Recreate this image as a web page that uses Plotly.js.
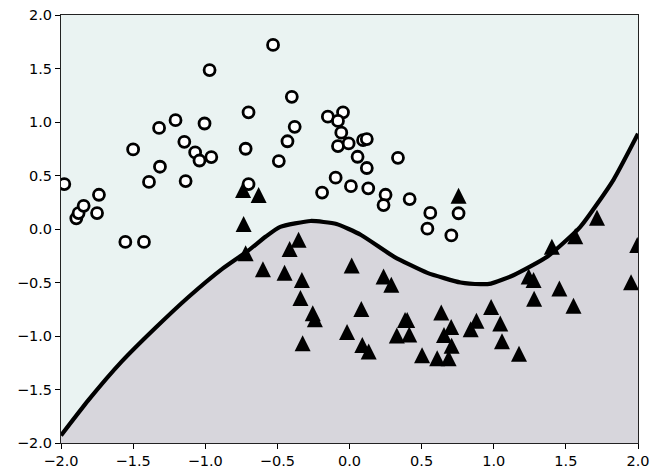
<!DOCTYPE html>
<html>
<head>
<meta charset="utf-8">
<script src="https://cdn.plot.ly/plotly-3.0.1.min.js"></script>
<style>html,body{margin:0;padding:0;background:#fff;}#chart{width:650px;height:471px;}</style>
</head>
<body>
<div id="chart"></div>
<script>
// Class 0 (open circles)
const circleX = [-1.977, -1.894, -1.878, -1.843, -1.737, -1.75, -1.554, -1.425, -1.50, -1.39,
  -1.314, -1.32, -1.206, -1.145, -1.136, -1.07, -1.04, -1.005, -0.958, -0.97,
  -0.72, -0.70, -0.70, -0.53, -0.49, -0.43, -0.40, -0.38, -0.19, -0.15,
  -0.045, -0.08, -0.057, -0.08, -0.006, 0.094, 0.12, 0.056, 0.12, 0.336,
  -0.096, 0.01, 0.13, 0.25, 0.236, 0.417, 0.56, 0.54, 0.756, 0.706];
const circleY = [0.42, 0.10, 0.149, 0.217, 0.32, 0.149, -0.121, -0.121, 0.744, 0.44,
  0.582, 0.945, 1.017, 0.815, 0.448, 0.716, 0.64, 0.986, 0.672, 1.485,
  0.75, 1.09, 0.42, 1.72, 0.635, 0.82, 1.235, 0.955, 0.34, 1.05,
  1.09, 1.01, 0.90, 0.775, 0.80, 0.83, 0.84, 0.675, 0.57, 0.665,
  0.48, 0.40, 0.38, 0.32, 0.224, 0.28, 0.15, 0.003, 0.147, -0.06];

// Class 1 (filled triangles)
const triangleX = [-0.738, -0.63, -0.734, -0.72, -0.60, -0.45, -0.415, -0.353, -0.33, -0.34,
  -0.255, -0.24, -0.325, 0.015, 0.236, 0.29, 0.082, -0.017, 0.089, 0.133,
  0.385, 0.40, 0.328, 0.414, 0.503, 0.608, 0.687, 0.636, 0.705, 0.655,
  0.708, 0.84, 0.88, 0.982, 1.045, 1.057, 1.175, 1.242, 1.276, 1.28,
  1.455, 1.553, 1.403, 1.565, 1.716, 1.952, 1.995, 0.756];
const triangleY = [0.364, 0.317, 0.047, -0.227, -0.376, -0.41, -0.187, -0.10, -0.476, -0.645,
  -0.787, -0.843, -1.067, -0.34, -0.445, -0.522, -0.747, -0.962, -1.083, -1.145,
  -0.85, -0.85, -0.995, -0.987, -1.18, -1.207, -1.207, -0.78, -0.915, -0.99,
  -1.09, -0.936, -0.858, -0.728, -0.884, -1.05, -1.165, -0.445, -0.476, -0.653,
  -0.556, -0.717, -0.165, -0.068, 0.105, -0.497, -0.149, 0.31];

// Decision boundary
const boundaryX = [-2.0, -1.81, -1.58, -1.35, -1.12, -0.88, -0.70, -0.58, -0.48, -0.27,
  -0.09, 0.08, 0.31, 0.54, 0.77, 0.91, 0.98, 1.14, 1.37, 1.60, 1.83, 2.0];
const boundaryY = [-1.93, -1.60, -1.24, -0.93, -0.64, -0.37, -0.20, -0.07, 0.02, 0.075,
  0.047, -0.056, -0.26, -0.41, -0.50, -0.515, -0.51, -0.43, -0.26, 0.02, 0.46, 0.89];

// Axis extent and ticks
const axisRange = [-2, 2];
const tickValues = [-2, -1.5, -1, -0.5, 0, 0.5, 1, 1.5, 2];
const tickLabels = ['\u22122.0', '\u22121.5', '\u22121.0', '\u22120.5', '0.0', '0.5', '1.0', '1.5', '2.0'];
const baselineX = [-2, 2];
const baselineY = [-2, -2];

const upperColor = '#eaf3f2';
const lowerColor = '#d7d6dc';

const triSize = 16;

const traces = [
  {x: baselineX, y: baselineY, mode: 'lines', line: {width: 0, color: 'rgba(0,0,0,0)'},
   hoverinfo: 'skip', showlegend: false},
  {x: boundaryX, y: boundaryY, mode: 'lines', fill: 'tonexty', fillcolor: lowerColor,
   line: {color: '#000', width: 4.2, shape: 'spline', smoothing: 0.5},
   hoverinfo: 'skip', showlegend: false},
  {x: circleX, y: circleY, mode: 'markers', showlegend: false,
   marker: {symbol: 'circle', size: 11, color: '#ffffff', line: {color: '#000', width: 2.8}}},
  {x: triangleX, y: triangleY, mode: 'markers', showlegend: false,
   marker: {symbol: 'arrow-down', angle: 180, standoff: triSize / 2, size: triSize,
            color: '#000', line: {color: '#000', width: 0}}}
];

const axisCommon = {
  range: axisRange, tickvals: tickValues, ticktext: tickLabels,
  ticks: 'outside', ticklen: 5, tickwidth: 1, tickcolor: '#000',
  showline: true, linecolor: '#222', linewidth: 1, mirror: true,
  showgrid: false, zeroline: false, fixedrange: true,
  tickfont: {family: 'DejaVu Sans', size: 14.5, color: '#000'}
};

const layout = {
  width: 650, height: 471,
  margin: {l: 61, r: 12, t: 15, b: 28, pad: 0},
  paper_bgcolor: '#ffffff',
  plot_bgcolor: upperColor,
  showlegend: false,
  xaxis: Object.assign({}, axisCommon),
  yaxis: Object.assign({}, axisCommon)
};

Plotly.newPlot('chart', traces, layout, {displayModeBar: false, staticPlot: true});
</script>
</body>
</html>
